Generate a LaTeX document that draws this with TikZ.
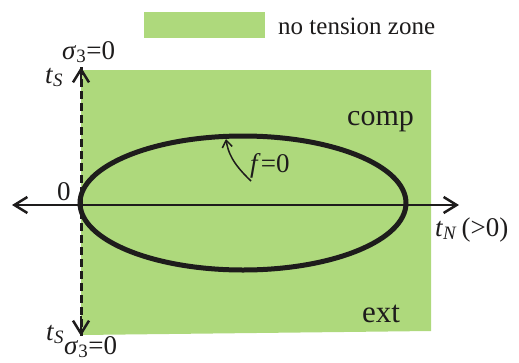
\documentclass[tikz,border=0pt]{standalone}
\usepackage{fontspec}
\setmainfont{Liberation Serif}
\usetikzlibrary{arrows.meta,shapes.geometric}
\definecolor{zone}{RGB}{174,217,124}
\definecolor{ink}{RGB}{30,28,28}
\tikzset{
  lbl/.style={anchor=base west, inner sep=0pt, text=ink, font=\fontsize{27}{30}\selectfont},
  axis/.style={draw=ink, line width=2.5pt, -{Straight Barb[length=13pt,width=16pt,line width=2.5pt]}},
  curve/.style={draw=ink, line width=5pt},
}
\begin{document}
\begin{tikzpicture}[x=1pt,y=-1pt]
\useasboundingbox (0,0) rectangle (519,362);
% green zone
\fill[zone] (81,70) -- (431,70) -- (431,331) -- (81,335) -- cycle;
% legend
\fill[zone] (144,12) rectangle (265,38);
\node[lbl, font=\fontsize{25}{28}\selectfont] (legend) at (278,34) {no tension zone};
% coordinates
\coordinate (O) at (81,205);
\coordinate (L) at (12,205);
\coordinate (R) at (459,205);
\coordinate (T) at (81,67);
\coordinate (B) at (81,336);
% ellipse
\node[curve, ellipse, minimum width=326pt, minimum height=134pt, inner sep=0pt] (ell) at (243,203) {};
% axes
\draw[axis] (O) -- (L);
\draw[axis] (O) -- (R);
\draw[draw=ink, line width=3pt, dash pattern=on 8pt off 4pt] (T) -- (B);
\draw[axis] ([yshift=-20pt]T) -- (T);
\draw[axis] ([yshift=20pt]B) -- (B);
% labels
\node[lbl] (s3top) at (62,59) {\textit{σ}\textsubscript{3}=0};
\node[lbl] (tstop) at (45,83) {\textit{t}\textsubscript{\textit{S}}};
\node[lbl] (zero) at (57,200) {0};
\node[lbl] (tn) at (435,236) {\textit{t}\textsubscript{\textit{N}}\,(>0)};
\node[lbl] (tsbot) at (46,340) {\textit{t}\textsubscript{\textit{S}}};
\node[lbl] (s3bot) at (64,354) {\textit{σ}\textsubscript{3}=0};
\node[lbl, font=\fontsize{30}{34}\selectfont] (comp) at (347,125) {comp};
\node[lbl, font=\fontsize{31}{34}\selectfont] (ext) at (362,322) {ext};
\node[lbl, font=\fontsize{27}{30}\selectfont] (f) at (250,172) {\textit{f}=0};
\coordinate (ftip) at (226,139);
\draw[draw=ink, line width=1.5pt, -{Straight Barb[length=7pt,width=10pt,line width=1.5pt]}] ([xshift=1pt,yshift=-9pt]f.base west) .. controls (232,163) and (228,152) .. (ftip);
\end{tikzpicture}
\end{document}
